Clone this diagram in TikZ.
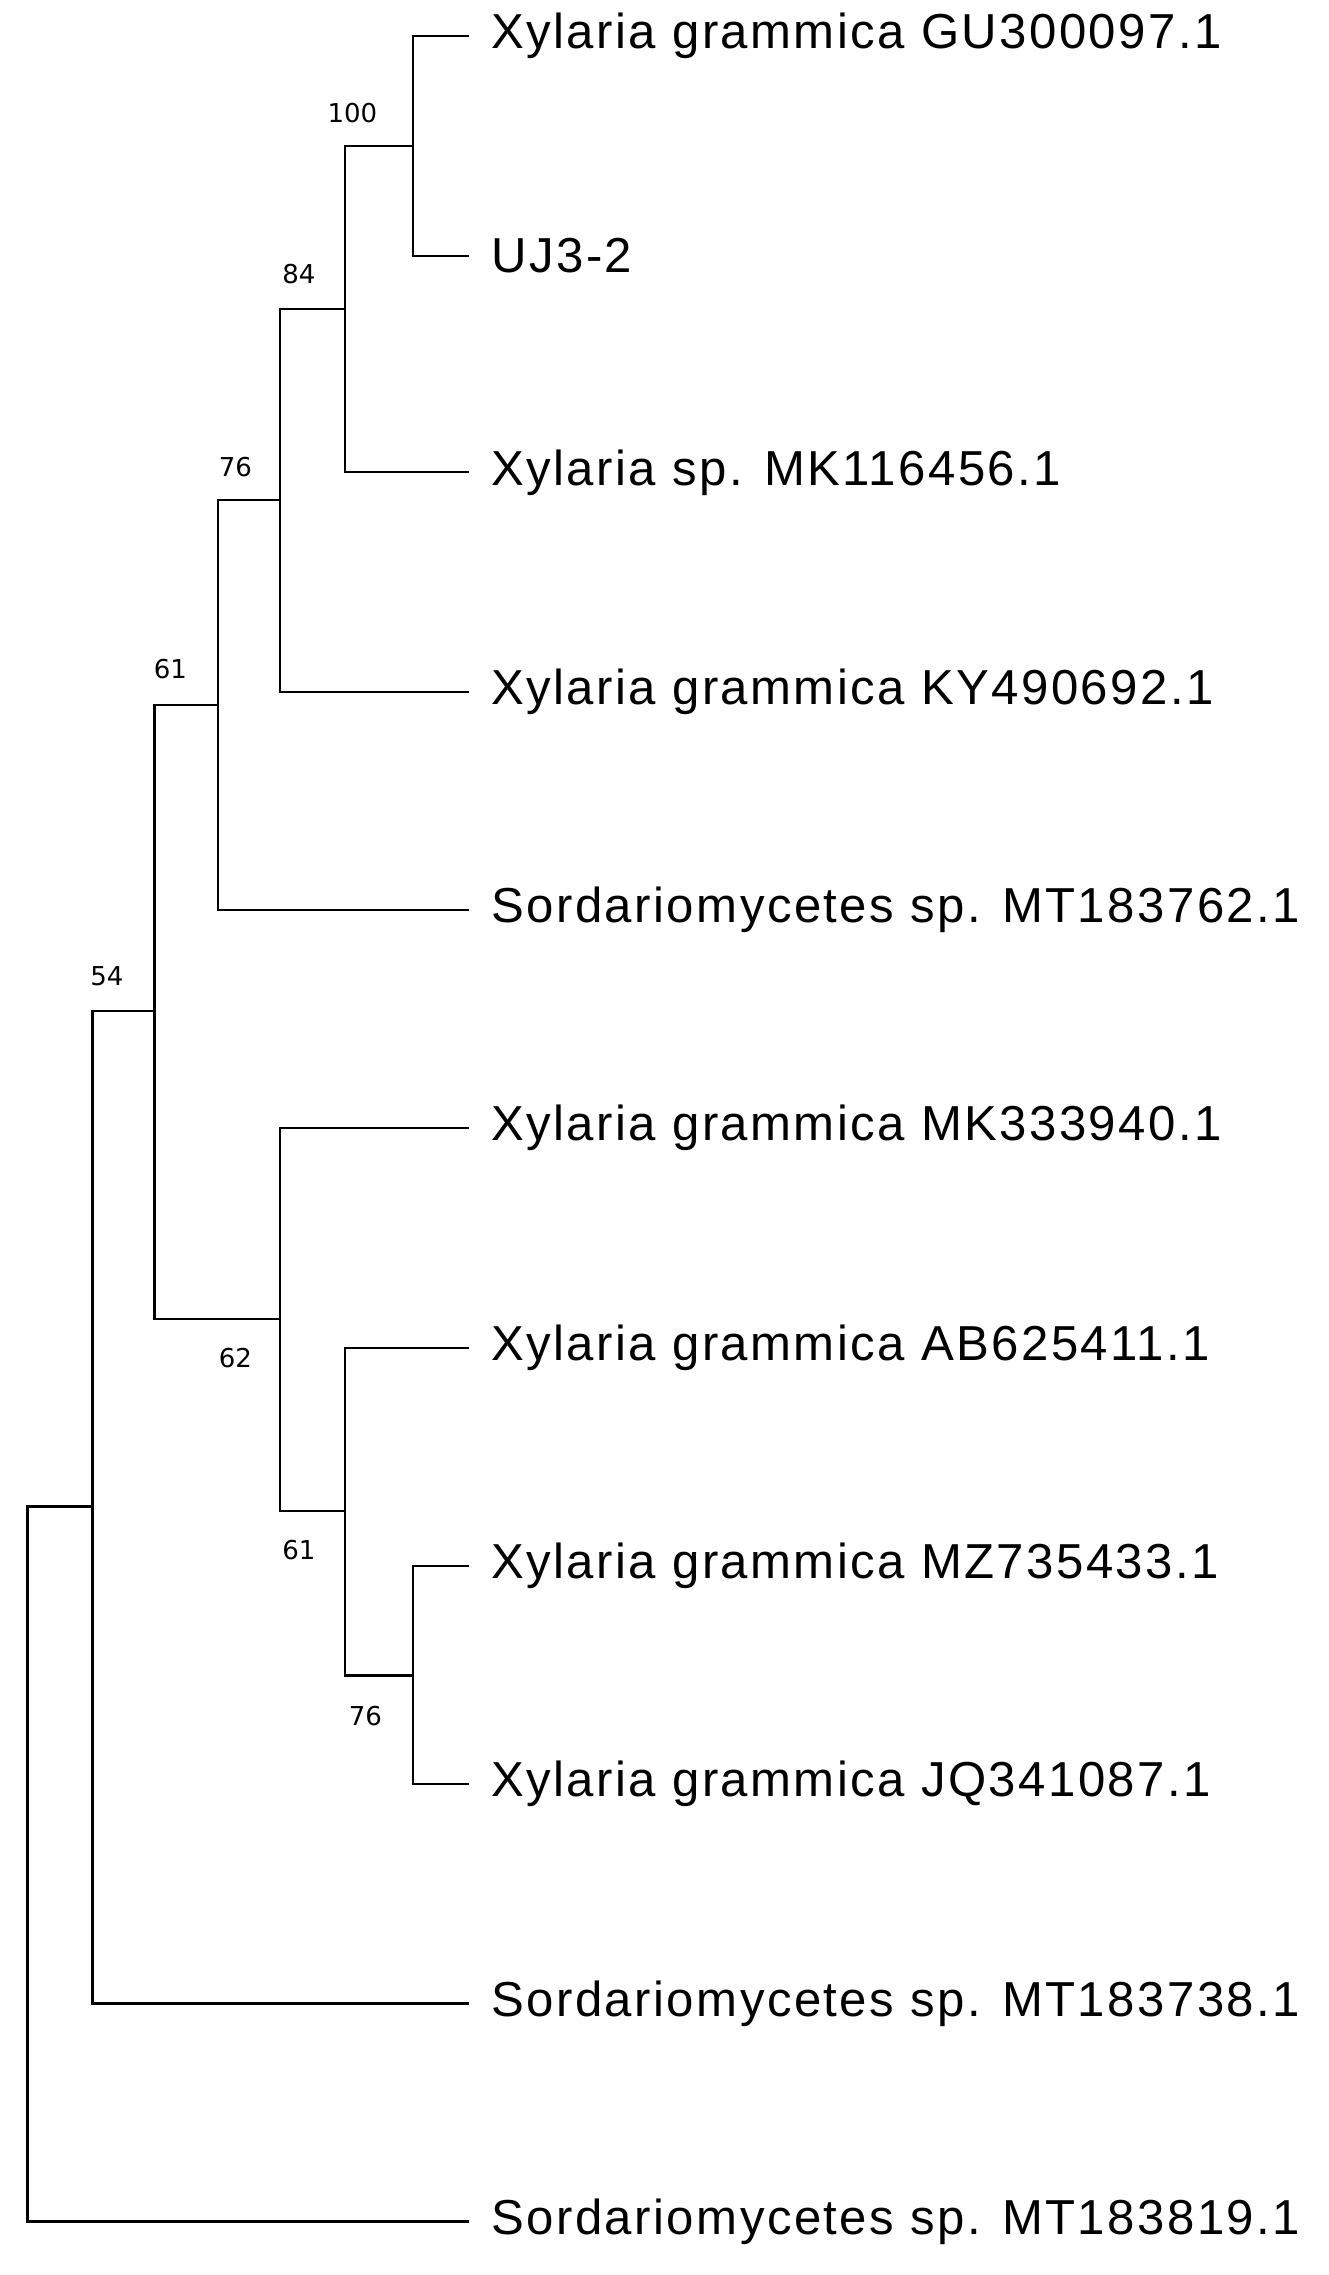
\documentclass[tikz,border=0pt]{standalone}
\usepackage{fontspec}
\setmainfont[LetterSpace=5]{Liberation Sans}
\newfontfamily\bsfont{DejaVu Sans}
\begin{document}
\begin{tikzpicture}[x=1pt,y=-1pt,
  br/.style={line width=1.6pt,black},
  leaf/.style={anchor=west,inner sep=0pt,font=\fontsize{34}{34}\selectfont},
  bs/.style={inner sep=0pt,font=\bsfont\fontsize{18}{18}\selectfont}]
\useasboundingbox (0,0) rectangle (920,1575);
% leaves
\foreach \n/\y/\t in {l1/25/Xylaria grammica GU300097.1, l2/177/UJ3-2, l3/327/Xylaria sp. MK116456.1, l4/479/Xylaria grammica KY490692.1, l5/630/Sordariomycetes sp. MT183762.1, l6/781/Xylaria grammica MK333940.1, l7/933/Xylaria grammica AB625411.1, l8/1084/Xylaria grammica MZ735433.1, l9/1235/Xylaria grammica JQ341087.1, l10/1387/Sordariomycetes sp. MT183738.1, l11/1538/Sordariomycetes sp. MT183819.1}
  {\coordinate (\n) at (325,\y); \node[leaf] (t\n) at (340,\y) {\t};}
% internal nodes
\coordinate (A) at (286,101);
\coordinate (B) at (239,214);
\coordinate (C) at (194,346);
\coordinate (D) at (151,488);
\coordinate (G) at (286,1160);
\coordinate (F) at (239,1046);
\coordinate (E) at (194,913);
\coordinate (H) at (107,700);
\coordinate (I) at (64,1043);
\coordinate (R) at (19,1290);
\draw[br] (l1) -| (A) |- (l2);
\draw[br] (A) -| (B) |- (l3);
\draw[br] (B) -| (C) |- (l4);
\draw[br] (C) -| (D) |- (l5);
\draw[br] (l8) -| (G) |- (l9);
\draw[br] (l7) -| (F) |- (G);
\draw[br] (l6) -| (E) |- (F);
\draw[br] (D) -| (H) |- (E);
\draw[br] (H) -| (I) |- (l10);
\draw[br] (I) -| (R) |- (l11);
% bootstrap
\node[bs] (b1) at (244,78) {100};
\node[bs] (b2) at (207,190) {84};
\node[bs] (b3) at (163,323) {76};
\node[bs] (b4) at (118,463) {61};
\node[bs] (b5) at (74,676) {54};
\node[bs] (b6) at (163,940) {62};
\node[bs] (b7) at (207,1073) {61};
\node[bs] (b8) at (253,1188) {76};
\end{tikzpicture}
\end{document}
